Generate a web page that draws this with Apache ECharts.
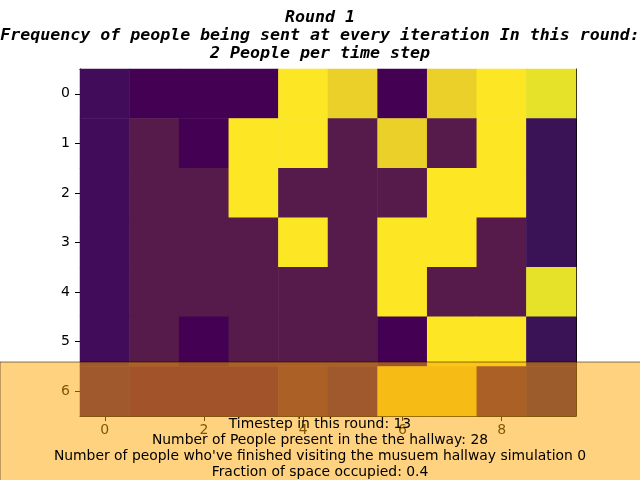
<!DOCTYPE html>
<html><head><meta charset="utf-8">
<script src="https://cdn.jsdelivr.net/npm/echarts@6/dist/echarts.min.js"></script>
<style>html,body{margin:0;padding:0;background:#fff}#c{width:640px;height:480px}</style>
</head><body><div id="c"></div>
<script>
const xCategories = ['0','1','2','3','4','5','6','7','8','9'];
const yCategories = ['0','1','2','3','4','5','6'];
// colour level per cell (row by row)
const row0 = [1,0,0,0,9,8,0,8,9,7];
const row1 = [1,3,0,9,9,3,8,3,9,2];
const row2 = [1,3,3,9,3,3,3,9,9,2];
const row3 = [1,3,3,3,9,3,9,9,3,2];
const row4 = [1,3,3,3,3,3,9,3,3,7];
const row5 = [1,3,0,3,3,3,0,9,9,2];
const row6 = [1,0,0,0,3,1,8,8,3,2];
const rows = [row0,row1,row2,row3,row4,row5,row6];
const titleLines = ['Round 1','Frequency of people being sent at every iteration In this round:','2 People per time step'];
const infoLines = ['Timestep in this round: 13','Number of People present in the the hallway: 28',"Number of people who've finished visiting the musuem hallway simulation 0",'Fraction of space occupied: 0.4'];

const data = [];
rows.forEach((r, yi) => r.forEach((v, xi) => data.push([xi, yi, v])));

const chart = echarts.init(document.getElementById('c'), null, {renderer:'canvas'});
const axisFont = {fontFamily:'DejaVu Sans', fontSize:14, color:'#000'};
chart.setOption({
  animation:false,
  title:{text:titleLines.join('\n'), left:'center', top:4,
    textStyle:{fontFamily:'DejaVu Sans Mono', fontStyle:'italic', fontWeight:'bold', fontSize:16.6, lineHeight:18, color:'#000'}},
  grid:{left:80, top:69, right:64, bottom:64},
  xAxis:[{type:'category', data:xCategories, position:'bottom',
    axisLine:{show:true, lineStyle:{color:'#000', width:1}},
    axisTick:{show:true, alignWithLabel:true, interval:1, length:5, lineStyle:{color:'#000'}},
    axisLabel:{interval:1, margin:7, ...axisFont}, splitLine:{show:false}},
   {type:'category', data:xCategories, position:'top',
    axisLine:{show:true, lineStyle:{color:'#000', width:1}}, axisTick:{show:false}, axisLabel:{show:false}}],
  yAxis:[{type:'category', data:yCategories, inverse:true, position:'left',
    axisLine:{show:true, lineStyle:{color:'#000', width:1}},
    axisTick:{show:true, alignWithLabel:true, length:5, lineStyle:{color:'#000'}},
    axisLabel:{margin:10, ...axisFont}, splitLine:{show:false}},
   {type:'category', data:yCategories, inverse:true, position:'right',
    axisLine:{show:true, lineStyle:{color:'#000', width:1}}, axisTick:{show:false}, axisLabel:{show:false}}],
  visualMap:{type:'piecewise', show:false, dimension:2, seriesIndex:0,
    pieces:[
      {value:0, color:'#440154'},
      {value:1, color:'#410c5a'},
      {value:2, color:'#3a1256'},
      {value:3, color:'#561a4b'},
      {value:7, color:'#e6e22a'},
      {value:8, color:'#ecd02a'},
      {value:9, color:'#fde725'}
    ]},
  series:[{type:'heatmap', data:data, xAxisIndex:0, yAxisIndex:0, z:1,
    itemStyle:{borderWidth:0}, emphasis:{disabled:true}}],
  graphic:[
    {type:'rect', z:100, shape:{x:0, y:362, width:660, height:140},
     style:{fill:'rgba(255,165,0,0.5)', stroke:'rgba(0,0,0,0.5)', lineWidth:1}},
    {type:'text', z:101, top:416, left:'center', style:{text:infoLines.join('\n'),
      textAlign:'center', fontFamily:'DejaVu Sans', fontSize:13.9, lineHeight:16, fill:'#000'}}
  ]
});
</script></body></html>
